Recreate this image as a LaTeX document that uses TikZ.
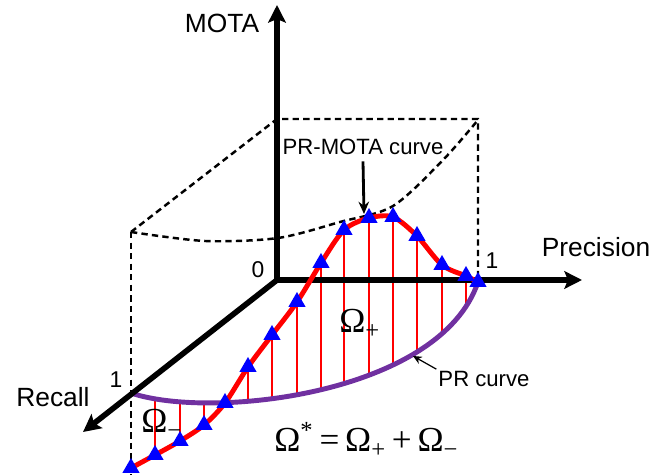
\documentclass[tikz,border=0pt]{standalone}
\usepackage{fontspec}
\setmainfont{Liberation Sans}
\newfontfamily\omegafont{Liberation Serif}
\usepackage{tikz}
\usetikzlibrary{arrows.meta,shapes.geometric}
\definecolor{curvered}{RGB}{255,0,0}
\definecolor{markblue}{RGB}{0,0,255}
\definecolor{prpurple}{RGB}{112,48,160}

\begin{document}
\begin{tikzpicture}[
    x=0.02cm, y=-0.02cm,
    axis/.style={line width=3.2pt, -{Stealth[length=10pt, width=10pt, inset=2pt]}},
    guide/.style={line width=1.4pt, dash pattern=on 3.6pt off 2.4pt},
    axislbl/.style={font=\fontsize{15}{18}\selectfont, inner sep=1pt},
    ticklbl/.style={font=\fontsize{13}{16}\selectfont, inner sep=1pt},
    curvelbl/.style={font=\fontsize{12.6}{15}\selectfont},
    omegalbl/.style={font=\omegafont\fontsize{20}{24}\selectfont, inner sep=0pt, anchor=base west},
    pointer/.style={line width=1.6pt, -{Stealth[length=7pt, width=6pt]}},
    thinpointer/.style={line width=0.7pt, -{Stealth[length=5pt, width=4.5pt]}},
    redcurve/.style={curvered, line width=2.8pt},
    redline/.style={curvered, line width=1.1pt},
    prcurve/.style={prpurple, line width=2.8pt},
    tri/.style={regular polygon, regular polygon sides=3, fill=markblue, minimum size=0.4cm, inner sep=0pt}
]
\useasboundingbox (0,0) rectangle (666,475);

% Corner points of the box
\coordinate (O) at (277,280);
\coordinate (t0) at (277,119);
\coordinate (t1) at (478,119);
\coordinate (p1) at (478,280);
\coordinate (r1top) at (131,232);
\coordinate (r1) at (131,393);
\coordinate (rbot) at (131,475);

% Dashed box
\draw[guide] (r1top) -- (t0) -- (t1) -- (p1);
\draw[guide] (r1top) -- (rbot);
\draw[guide] plot[smooth] coordinates {(131,232) (205,241) (278,238) (340,222) (393,206) (443,160) (478,120)};

% Hatching between the two curves
\begin{scope}
\clip plot[smooth] coordinates {(131,468) (155,455) (180,441) (204,425) (225,403) (248,367) (272,335) (297,302) (321,263) (344,230) (369,218) (393,217) (417,236) (442,265) (466,276) (478,282)}
    .. controls (440,395) and (210,420) .. (131,393) -- cycle;
\foreach \x in {155,180,204,248,272,297,321,344,369,393,417,442,466}
    \draw[redline] (\x,190) -- (\x,475);
\end{scope}

% PR curve
\draw[prcurve] (r1) .. controls (210,420) and (440,395) .. (478,282);

% Axes
\coordinate (motaend) at (277,5);
\coordinate (precend) at (582,280);
\coordinate (recend) at (83,432);
\draw[axis] (O) -- (motaend);
\draw[axis] (O) -- (precend);
\draw[axis] (O) -- (recend);

% PR-MOTA curve
\draw[redcurve] plot[smooth] coordinates {(131,468) (155,455) (180,441) (204,425) (225,403) (248,367) (272,335) (297,302) (321,263) (344,230) (369,218) (393,217) (417,236) (442,265) (466,276) (478,282)};
\foreach \x/\y [count=\i] in {131/468, 155/455, 180/441, 204/425, 225/403, 248/367, 272/335, 297/302, 321/263, 344/230, 369/218, 393/217, 417/236, 442/265, 466/276, 478/282}
    \node[tri] (m\i) at (\x,\y) {};

% Labels
\node[axislbl] (motalbl) at (222,23) {MOTA};
\node[axislbl] (preclbl) at (596,247) {Precision};
\node[axislbl] (reclbl) at (53,397) {Recall};
\node[ticklbl] (zero) at (258,270) {0};
\node[ticklbl] (rone) at (116,380) {1};
\node[ticklbl] (pone) at (492,261) {1};

\node[curvelbl, inner sep=3.5pt] (motacurve) at (363,147) {PR-MOTA curve};
\coordinate (motahit) at (364,214);
\draw[pointer] (motacurve.south) -- (motahit);

\node[curvelbl, inner sep=1pt] (prlbl) at (484,379) {PR curve};
\coordinate (prhit) at (413,356);
\draw[thinpointer] (prlbl.north west) -- (prhit);

\node[omegalbl] (omplus) at (339,333) {Ω\textsubscript{+}};
\node[omegalbl] (omminus) at (141,433) {Ω\textsubscript{−}};
\node[omegalbl] (omstar) at (274,452) {Ω\textsuperscript{*}\,=\,Ω\textsubscript{+}\,+\,Ω\textsubscript{−}};

\end{tikzpicture}
\end{document}
